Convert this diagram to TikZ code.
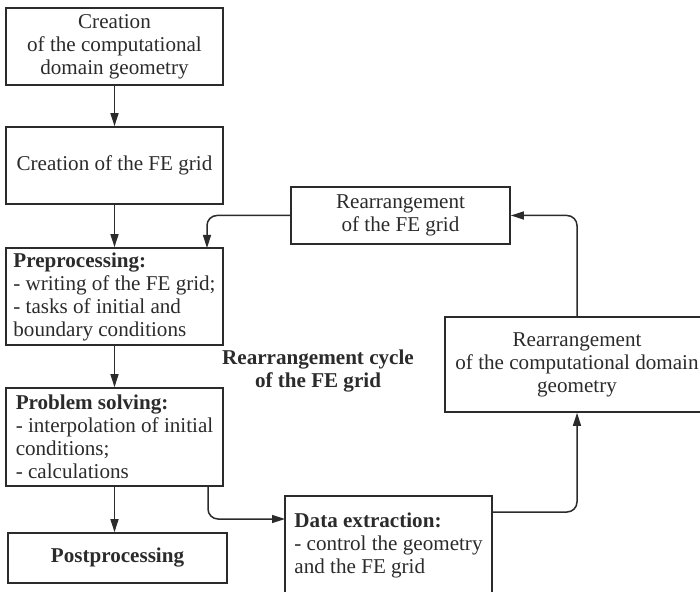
\documentclass[tikz,border=0pt]{standalone}
\usepackage{fontspec}
\setmainfont{Liberation Serif}
\usetikzlibrary{arrows.meta}

\definecolor{ink}{gray}{0.17}

\tikzset{
    box/.style={draw=ink, line width=0.8pt, text=ink, inner sep=0pt, align=center,
        font=\fontsize{10.55}{11.5}\selectfont},
    lbox/.style={box, align=left},
    arr/.style={draw=ink, line width=0.75pt, rounded corners=5pt,
        -{Triangle[length=6.5pt,width=4pt]}},
}

\begin{document}
\begin{tikzpicture}[x=0.5pt,y=-0.5pt]
        \useasboundingbox (0,0) rectangle (700,592);
        \clip (0,0) rectangle (700,592);

        % linke Spalte
        \node[box, minimum width=108.5pt, minimum height=38.5pt] (creation) at (114.5,46.5)
            {Creation\\ of the computational\\ domain geometry};
        \node[box, minimum width=108.5pt, minimum height=38.5pt] (grid) at (114.5,165.5)
            {Creation of the FE grid};
        \node[lbox, minimum width=108.5pt, minimum height=48.5pt] (prep) at (114.5,296.5)
            {\textbf{Preprocessing:}\\ - writing of the FE grid;\\ - tasks of initial and\\ boundary conditions};
        \node[lbox, minimum width=108.5pt, minimum height=49pt] (solving) at (114.5,437)
            {\textbf{Problem solving:}\\ - interpolation of initial\\ conditions;\\ - calculations};
        \node[box, minimum width=109.5pt, minimum height=25pt] (post) at (117.5,558)
            {\textbf{Postprocessing}};

        % Zyklus
        \node[box, minimum width=109.5pt, minimum height=28.5pt] (regrid) at (400.5,215.5)
            {Rearrangement\\ of the FE grid};
        \node[box, minimum width=132pt, minimum height=47.5pt] (regeom) at (577,364.5)
            {Rearrangement\\ of the computational domain\\ geometry};
        \node[lbox, minimum width=103.5pt, minimum height=49pt] (extract) at (388.5,545)
            {\textbf{Data extraction:}\\ - control the geometry\\ and the FE grid};

        \node[text=ink, align=center, font=\fontsize{10.55}{11.5}\selectfont\bfseries] (cycle) at (318,371)
            {Rearrangement cycle\\ of the FE grid};

        % Pfeile
        \coordinate (preIn) at (207,248);
        \coordinate (solveOut) at (208,486);
        \coordinate (extractIn) at (285,519);
        \coordinate (extractOut) at (492,512);

        \draw[arr] (creation) -- (grid);
        \draw[arr] (grid) -- (prep);
        \draw[arr] (prep) -- (solving);
        \draw[arr] (solving.south) -- (solving.south |- post.north);

        \draw[arr] (regrid.west) -| (preIn);
        \draw[arr] (solveOut) |- (extractIn);
        \draw[arr] (extractOut) -| (regeom.south);
        \draw[arr] (regeom.north) |- (regrid.east);
    \end{tikzpicture}
\end{document}
